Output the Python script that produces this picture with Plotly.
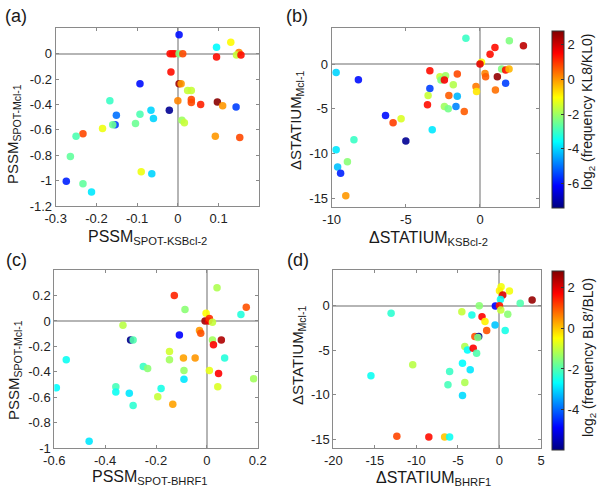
import plotly.graph_objects as go

# ---------------- data ----------------
# panel (a): PSSM KSBcl-2 vs PSSM Mcl-1, colour = log2(freq KL8/KL0)
a_x = [0.003, 0.095, 0.13, -0.019, -0.013, -0.008, 0.003, 0.012, 0.095, 0.150, 0.144, 0.155,
       -0.017, -0.093, 0.003, 0.008, 0.024, 0.033, -0.167, 0.0, 0.033, 0.033, 0.056, 0.097,
       0.11, 0.143, -0.021, -0.066, -0.06, -0.151, -0.093, -0.154, -0.16, -0.104, -0.185,
       0.010, 0.016, -0.233, -0.25, 0.092, 0.152, -0.264, -0.09, -0.064, -0.274, -0.233, -0.212]
a_y = [0.15, 0.05, 0.09, 0.0, 0.0, 0.0, 0.0, 0.0, -0.026, 0.01, -0.01, -0.01,
       -0.145, -0.236, -0.236, -0.236, -0.29, -0.29, -0.37, -0.37, -0.36, -0.385, -0.40, -0.38,
       -0.41, -0.42, -0.446, -0.446, -0.51, -0.486, -0.478, -0.56, -0.56, -0.55, -0.59,
       -0.525, -0.545, -0.63, -0.65, -0.65, -0.66, -0.81, -0.93, -0.945, -1.005, -1.025, -1.09]
a_c = [-6.0, -3.6, -1.0, 1.4, 1.4, 1.4, -2.3, 0.8, 1.4, 0.2, -1.6, 1.4,
       1.4, -6.0, 2.5, 0.0, -1.6, -1.6, -3.0, 0.2, 0.8, 0.8, 1.2, 2.7,
       0.0, -5.5, -7.2, -4.0, -4.0, -5.0, -2.8, -5.5, -2.5, -2.5, -1.2,
       -2.0, -1.6, 0.8, -2.8, 0.0, 0.8, -2.6, -1.2, -4.0, -5.8, -2.6, -3.8]

# panel (b): dSTATIUM KSBcl-2 vs dSTATIUM Mcl-1
b_x = [-0.95, 1.98, 2.93, 1.01, 0.68, 0.1, 0.0, -9.7, -8.2, -3.38, -2.7, -2.32, -2.63, -2.4,
       -1.53, -1.8, -3.38, -3.5, -2.1, -1.53, -3.54, -2.4, -2.14, -1.62, -1.06, -0.27, -0.23,
       0.34, 0.38, 1.17, 1.73, 1.04, 1.46, 1.73, 1.96, -6.37, -5.86, -5.32, -3.22, -5.0,
       -8.5, -9.7, -8.94, -9.6, -9.4, -9.05]
b_y = [2.9, 2.6, 2.04, 1.85, 1.1, 0.2, 0.0, -0.93, -1.74, -0.74, -1.41, -1.3, -1.78, -1.78,
       -1.11, -2.3, -2.74, -3.5, -3.5, -3.6, -4.55, -4.74, -5.0, -4.74, -5.3, -2.5, -3.07,
       -1.04, -1.4, -1.4, -2.15, -2.9, -0.56, -0.67, -0.56, -5.74, -6.56, -6.1, -7.33, -8.6,
       -8.44, -9.56, -10.9, -11.5, -12.2, -14.7]
b_c = [-3.0, -2.3, 2.2, 1.4, 1.4, -1.0, 1.8, -4.0, -6.0, 1.4, -1.6, -2.0, -2.3, 1.6,
       0.8, -1.8, -5.5, -1.6, 0.6, -4.3, 1.4, -2.0, -2.4, -4.8, 0.6, 0.3, -0.8,
       0.2, 0.6, 2.6, -5.5, 0.4, -2.3, 1.4, -0.3, -6.0, 0.9, -1.4, -3.8, -7.2,
       -3.0, -3.8, -2.2, -4.2, -5.8, 0.0]

# panel (c): PSSM BHRF1 vs PSSM Mcl-1, colour = log2(freq BL8'/BL0)
c_x = [-0.128, 0.04, -0.086, 0.155, 0.134, -0.003, -0.007, 0.007, 0.01, 0.022, -0.33, -0.029,
       -0.024, -0.108, -0.3, -0.29, 0.022, 0.057, 0.026, 0.07, -0.553, -0.147, -0.147, -0.092,
       -0.046, -0.25, -0.233, -0.09, 0.01, 0.046, -0.09, 0.184, 0.043, -0.358, -0.358, -0.592,
       -0.305, -0.18, -0.193, -0.29, -0.134, -0.463]
c_y = [0.2, 0.26, 0.09, 0.108, 0.05, 0.06, 0.0, 0.0, 0.02, -0.01, -0.034, -0.076,
       -0.097, -0.11, -0.15, -0.15, -0.15, -0.15, -0.187, -0.29, -0.305, -0.24, -0.305, -0.29,
       -0.29, -0.358, -0.374, -0.39, -0.39, -0.413, -0.457, -0.453, -0.516, -0.516, -0.558, -0.524,
       -0.568, -0.53, -0.595, -0.663, -0.655, -0.945]
c_c = [1.4, -1.2, -1.5, 1.0, -2.4, -0.5, 2.5, 1.8, 1.3, -1.0, -1.1, 0.4,
       1.0, -4.9, -5.9, -2.0, -1.3, 2.4, 1.7, -2.4, -2.6, -0.9, -1.3, 0.3,
       0.4, -2.2, -1.5, -1.4, -0.7, 1.7, -2.9, -1.3, -0.8, -2.1, -2.6, -2.7,
       -2.9, -2.5, -1.0, -2.3, 0.3, -2.9]

# panel (d): dSTATIUM BHRF1 vs dSTATIUM Mcl-1
d_x = [0.2, 1.2, 0.0, 0.4, 0.12, 3.93, 2.5, -2.43, -0.49, 0.0, 0.16, 1.0, -13.04, -4.53,
       -3.32, -2.1, -1.74, -0.53, 0.69, -1.54, -2.96, -2.5, -2.6, -4.17, -3.85, -3.16, -2.75,
       -10.44, -4.45, -3.52, -15.47, -6.0, -6.2, -4.17, -4.45, -12.35, -8.5, -6.6, -6.0]
d_y = [2.13, 1.64, 1.68, 1.2, 0.7, 0.63, 0.26, 0.0, -0.04, 0.0, -0.49, -0.97, -0.86, -0.67,
       -1.04, -1.23, -1.79, -2.16, -2.8, -2.8, -3.47, -3.47, -3.58, -4.59, -4.96, -4.78, -5.34,
       -6.64, -6.46, -7.2, -7.87, -7.39, -8.88, -8.62, -10.07, -14.66, -14.74, -14.74, -14.74]
d_c = [-0.6, -0.6, -0.4, 2.0, -2.6, 2.6, -2.0, -1.5, -4.9, 1.5, -1.0, -1.5, -2.3, -1.0,
       -2.5, 1.7, -0.4, -3.2, -2.5, 1.0, 1.0, -5.9, -1.6, -1.2, -2.7, 1.7, -2.0,
       -1.1, -2.7, -2.9, -2.6, -2.2, -2.1, -1.2, -3.0, 1.1, 1.6, 0.0, -2.6]

# tick labels
a_xticks = [-0.3, -0.2, -0.1, 0, 0.1]
a_yticks = [-1.2, -1, -0.8, -0.6, -0.4, -0.2, 0]
b_xticks = [-10, -5, 0]
b_yticks = [-15, -10, -5, 0]
c_xticks = [-0.6, -0.4, -0.2, 0, 0.2]
c_yticks = [-1, -0.8, -0.6, -0.4, -0.2, 0, 0.2]
d_xticks = [-20, -15, -10, -5, 0, 5]
d_yticks = [-15, -10, -5, 0]
top_cbar_ticks = [-6, -4, -2, 0, 2]
bot_cbar_ticks = [-4, -2, 0, 2]

# texts
x_titles = ["PSSM<sub>SPOT-KSBcl-2</sub>", "\u0394STATIUM<sub>KSBcl-2</sub>",
            "PSSM<sub>SPOT-BHRF1</sub>", "\u0394STATIUM<sub>BHRF1</sub>"]
y_titles = ["PSSM<sub>SPOT-Mcl-1</sub>", "\u0394STATIUM<sub>Mcl-1</sub>",
            "PSSM<sub>SPOT-Mcl-1</sub>", "\u0394STATIUM<sub>Mcl-1</sub>"]
cbar_titles = ["log<sub>2</sub> (frequency KL8/KL0)", "log<sub>2</sub> (frequency BL8\u2032/BL0)"]
panel_labels = ["(a)", "(b)", "(c)", "(d)"]

# ---------------- styling ----------------
FONT = "Arial, Liberation Sans, sans-serif"
jet = [[0.0, "rgb(0,0,128)"], [0.125, "rgb(0,0,255)"], [0.375, "rgb(0,255,255)"],
       [0.625, "rgb(255,255,0)"], [0.875, "rgb(255,0,0)"], [1.0, "rgb(128,0,0)"]]

W, H = 600, 493


def px_x(p):
    return p / W


def px_y(p):
    return 1 - p / H


def lab(v):
    return "%g" % v


fig = go.Figure()

panels = [
    ("x", "y", a_x, a_y, a_c, -7.4, 2.8, None),
    ("x2", "y2", b_x, b_y, b_c, -7.4, 2.8, "top"),
    ("x3", "y3", c_x, c_y, c_c, -6.0, 2.8, None),
    ("x4", "y4", d_x, d_y, d_c, -6.0, 2.8, "bottom"),
]

for xa, ya, xs, ys, cs, cmin, cmax, cb in panels:
    marker = dict(size=7.5, color=cs, colorscale=jet, cmin=cmin, cmax=cmax,
                  opacity=0.9, line=dict(width=0))
    if cb is not None:
        if cb == "top":
            x0, top, bot, tv = 551.7, 30.7, 208.0, top_cbar_ticks
        else:
            x0, top, bot, tv = 552.3, 271.3, 450.3, bot_cbar_ticks
        marker["showscale"] = True
        marker["colorbar"] = dict(
            x=px_x(x0), xanchor="left", xpad=0, thickness=11.5,
            lenmode="fraction", len=(bot - top) / H, y=px_y((bot + top) / 2), yanchor="middle",
            ypad=0, outlinewidth=1, outlinecolor="#333",
            tickvals=tv, ticktext=[lab(v) for v in tv],
            ticks="inside", ticklen=3, tickcolor="#333",
            tickfont=dict(family=FONT, size=13, color="#222"))
    else:
        marker["showscale"] = False
    fig.add_trace(go.Scatter(x=xs, y=ys, mode="markers", xaxis=xa, yaxis=ya,
                             marker=marker, showlegend=False, hoverinfo="skip"))


def axis(domain, rng, ticks, anchor):
    return dict(
        domain=domain, range=rng, anchor=anchor, autorange=False,
        tickvals=ticks, ticktext=[lab(v) for v in ticks],
        showline=True, mirror="ticks", linecolor="#8a8a8a", linewidth=1,
        ticks="inside", ticklen=3, tickcolor="#8a8a8a",
        showgrid=False, zeroline=True, zerolinecolor="#b5b5b5", zerolinewidth=1.5,
        tickfont=dict(family=FONT, size=13, color="#222"),
        automargin=False,
    )


fig.update_layout(
    width=W, height=H, autosize=False,
    margin=dict(l=0, r=0, t=0, b=0),
    paper_bgcolor="white", plot_bgcolor="white",
    font=dict(family=FONT, color="#222"),
    xaxis=axis([px_x(55.7), px_x(259.3)], [-0.3, 0.2], a_xticks, "y"),
    yaxis=axis([px_y(206), px_y(28.3)], [-1.2, 0.2], a_yticks, "x"),
    xaxis2=axis([px_x(331.7), px_x(539.3)], [-10, 4], b_xticks, "y2"),
    yaxis2=axis([px_y(207.3), px_y(28.3)], [-16, 4], b_yticks, "x2"),
    xaxis3=axis([px_x(54.3), px_x(257.7)], [-0.6, 0.2], c_xticks, "y3"),
    yaxis3=axis([px_y(448.3), px_y(270)], [-1, 0.4], c_yticks, "x3"),
    xaxis4=axis([px_x(333.3), px_x(541)], [-20, 5], d_xticks, "y4"),
    yaxis4=axis([px_y(448.3), px_y(270)], [-16, 4], d_yticks, "x4"),
)


def ann(text, xp, yp, size, angle=0, xanchor="center", yanchor="middle"):
    fig.add_annotation(text=text, x=px_x(xp), y=px_y(yp), xref="paper", yref="paper",
                       xanchor=xanchor, yanchor=yanchor, showarrow=False, textangle=angle,
                       font=dict(family=FONT, size=size, color="#1a1a1a"))


# x-axis titles
for t, (xp, yp) in zip(x_titles, [(147, 237), (428, 238), (150, 477), (433, 478)]):
    ann(t, xp, yp, 16)
# y-axis titles
for t, (xp, yp) in zip(y_titles, [(14, 134), (297, 121), (14, 370), (298, 356)]):
    ann(t, xp, yp, 15, angle=-90)
# colorbar titles
for t, (xp, yp) in zip(cbar_titles, [(588, 112), (589, 358)]):
    ann(t, xp, yp, 14, angle=-90)
# panel labels
for t, (xp, yp) in zip(panel_labels, [(3, 4), (284, 4), (4, 248), (285, 248)]):
    ann(t, xp, yp, 18, xanchor="left", yanchor="top")

fig.write_html("out.html", config={"displayModeBar": False},
               post_script="document.body.style.margin='0';document.body.style.overflow='hidden';")
